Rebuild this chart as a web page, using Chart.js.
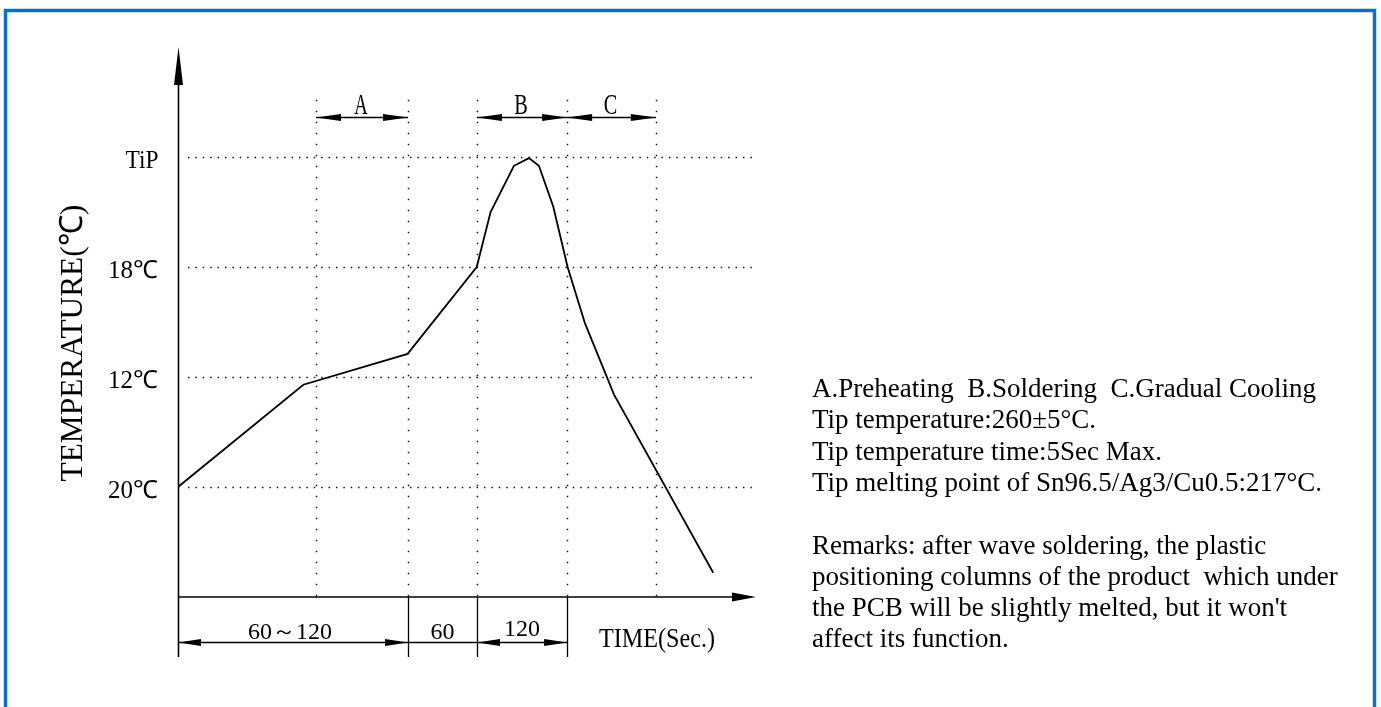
<!DOCTYPE html>
<html>
<head>
<meta charset="utf-8">
<script src="https://cdn.jsdelivr.net/npm/chart.js@4.4.1/dist/chart.umd.min.js"></script>
<style>
  html, body { margin: 0; padding: 0; background: #fff; }
  #wrap { position: relative; width: 1381px; height: 707px; overflow: hidden; }
  canvas { display: block; }
</style>
</head>
<body>
<div id="wrap"><canvas id="profile" width="1381" height="707"></canvas></div>
<script>
/* ── Data ── */
// time is in drawing units along the axis, temperature in "level" units (1 = 20℃ row ... 4 = TiP row)
const curveTime = [0, 54.2, 99.3, 129.2, 135.2, 145.3, 151.8, 156.1, 162.3, 168.5, 176.0, 188.6, 231.5];
const curveTemp = [1.0, 1.93, 2.21, 3.0, 3.5, 3.92, 3.99, 3.92, 3.55, 3.0, 2.49, 1.84, 0.22];

const levelValues = [1, 2, 3, 4];
const levelLabels = ['20℃', '12℃', '18℃', 'TiP'];

const guideTimes = [59.7, 99.5, 129.3, 168.3, 206.7];

const phaseLabels = ['A', 'B', 'C'];
const phaseFrom = [59.7, 129.3, 168.3];
const phaseTo = [99.5, 168.3, 206.7];

const spanLabels = ['60～120', '60', '120'];
const spanFrom = [0, 99.5, 129.3];
const spanTo = [99.5, 129.3, 168.3];
const spanArrows = [true, false, true];

const yTitle = 'TEMPERATURE(℃)';
const xTitle = 'TIME(Sec.)';

const notes = [
  'A.Preheating  B.Soldering  C.Gradual Cooling',
  'Tip temperature:260±5°C.',
  'Tip temperature time:5Sec Max.',
  'Tip melting point of Sn96.5/Ag3/Cu0.5:217°C.',
  '',
  'Remarks: after wave soldering, the plastic',
  'positioning columns of the product  which under',
  "the PCB will be slightly melted, but it won't",
  'affect its function.',
];

/* ── Helpers ── */
const SERIF = "'Liberation Serif', 'Times New Roman', serif";

function arrowHead(ctx, x, y, dx, dy, len, half) {
  const bx = x - dx * len, by = y - dy * len;
  ctx.beginPath();
  ctx.moveTo(x, y);
  ctx.lineTo(bx - dy * half, by + dx * half);
  ctx.lineTo(bx + dy * half, by - dx * half);
  ctx.closePath();
  ctx.fill();
}

// draw text centred on cx, squeezed/stretched to a given width
function fitText(ctx, text, cx, base, font, width) {
  ctx.save();
  ctx.font = font;
  const w = ctx.measureText(text).width;
  const k = width / w;
  ctx.translate(cx, base);
  ctx.scale(k, 1);
  ctx.textAlign = 'center';
  ctx.textBaseline = 'alphabetic';
  ctx.fillText(text, 0, 0);
  ctx.restore();
}

function line(ctx, x1, y1, x2, y2) {
  ctx.beginPath();
  ctx.moveTo(x1, y1);
  ctx.lineTo(x2, y2);
  ctx.stroke();
}

/* ── Plugin: grid, axes, dimension marks, text ── */
const profilePlugin = {
  id: 'profile',
  beforeDatasetsDraw(chart) {
    const { ctx, scales: { x, y } } = chart;
    ctx.save();
    ctx.strokeStyle = '#111';
    ctx.lineWidth = 1.5;
    ctx.setLineDash([1.5, 5.9]);
    levelValues.forEach(v => {
      const py = Math.round(y.getPixelForValue(v)) + 0.5;
      line(ctx, x.getPixelForValue(4.3), py, x.right, py);
    });
    ctx.setLineDash([1.5, 9.5]);
    guideTimes.forEach(t => {
      const px = Math.round(x.getPixelForValue(t)) + 0.5;
      line(ctx, px, y.getPixelForValue(4.52), px, y.bottom);
    });
    ctx.restore();
  },
  afterDraw(chart) {
    const { ctx, scales: { x, y } } = chart;
    const x0 = x.left, yb = y.bottom;
    ctx.save();
    ctx.strokeStyle = '#000';
    ctx.fillStyle = '#000';

    // axes
    ctx.lineWidth = 1.6;
    line(ctx, x0 + 0.5, yb + 60, x0 + 0.5, y.top + 30);
    arrowHead(ctx, x0 + 0.5, y.top, 0, -1, 38, 4.5);
    line(ctx, x0, yb, x.right - 20, yb);
    arrowHead(ctx, x.right, yb, 1, 0, 24, 4.5);

    // phase arrows on top
    ctx.lineWidth = 1.4;
    const ay = Math.round(y.getPixelForValue(4.368)) + 0.5;
    phaseLabels.forEach((lab, i) => {
      const a = x.getPixelForValue(phaseFrom[i]), b = x.getPixelForValue(phaseTo[i]);
      line(ctx, a, ay, b, ay);
      arrowHead(ctx, a, ay, -1, 0, 25, 3.5);
      arrowHead(ctx, b, ay, 1, 0, 25, 3.5);
      fitText(ctx, lab, (a + b) / 2 - 1, ay - 3.5, '30px ' + SERIF, 13.5);
    });

    // y level labels
    ctx.font = '25px ' + SERIF;
    ctx.textAlign = 'right';
    ctx.textBaseline = 'alphabetic';
    levelValues.forEach((v, i) => {
      const py = y.getPixelForValue(v);
      if (levelLabels[i] === 'TiP') {
        fitText(ctx, 'TiP', x0 - 36, py + 11, '26px ' + SERIF, 33);
      } else {
        ctx.fillText(levelLabels[i], x0 - 20, py + 11);
      }
    });

    // y title
    ctx.save();
    ctx.translate(82, 343);
    ctx.rotate(-Math.PI / 2);
    fitText(ctx, yTitle, 0, 0, '32px ' + SERIF, 277);
    ctx.restore();

    // bottom dimension marks
    ctx.lineWidth = 1.3;
    const dy = Math.round(yb + 45) + 0.5;
    spanLabels.forEach((lab, i) => {
      const a = x.getPixelForValue(spanFrom[i]), b = x.getPixelForValue(spanTo[i]);
      line(ctx, Math.round(b) + 0.5, yb, Math.round(b) + 0.5, yb + 60);
      line(ctx, a, dy, b, dy);
      if (spanArrows[i]) {
        arrowHead(ctx, a, dy, -1, 0, 23, 3.5);
        arrowHead(ctx, b, dy, 1, 0, 23, 3.5);
      }
      ctx.font = '24px ' + SERIF;
      ctx.textAlign = 'center';
      ctx.fillText(lab, (a + b) / 2 + (i === 0 ? -3 : 0), dy - (i === 2 ? 7 : 4));
    });
    fitText(ctx, xTitle, 657, yb + 50, '28px ' + SERIF, 116);

    // notes on the right
    ctx.font = '27px ' + SERIF;
    ctx.textAlign = 'left';
    notes.forEach((t, i) => {
      if (t) ctx.fillText(t, 812, 397 + i * 31.3);
    });

    // frame
    ctx.strokeStyle = '#0a70c2';
    ctx.lineWidth = 3.5;
    ctx.beginPath();
    ctx.moveTo(5.5, 720);
    ctx.lineTo(5.5, 10.5);
    ctx.lineTo(1374.5, 10.5);
    ctx.lineTo(1374.5, 720);
    ctx.stroke();
    ctx.restore();
  }
};

/* ── Chart ── */
new Chart(document.getElementById('profile'), {
  type: 'line',
  data: {
    datasets: [{
      label: 'Profile',
      data: curveTime.map((t, i) => ({ x: t, y: curveTemp[i] })),
      borderColor: '#000',
      borderWidth: 1.8,
      pointRadius: 0,
      tension: 0,
      fill: false,
    }]
  },
  options: {
    responsive: false,
    animation: false,
    devicePixelRatio: 1,
    layout: { padding: { left: 178, right: 625, top: 47, bottom: 110 } },
    plugins: { legend: { display: false }, tooltip: { enabled: false } },
    scales: {
      x: { type: 'linear', min: 0, max: 250, display: false },
      y: { type: 'linear', min: 0, max: 5, display: false }
    }
  },
  plugins: [profilePlugin]
});
</script>
</body>
</html>
